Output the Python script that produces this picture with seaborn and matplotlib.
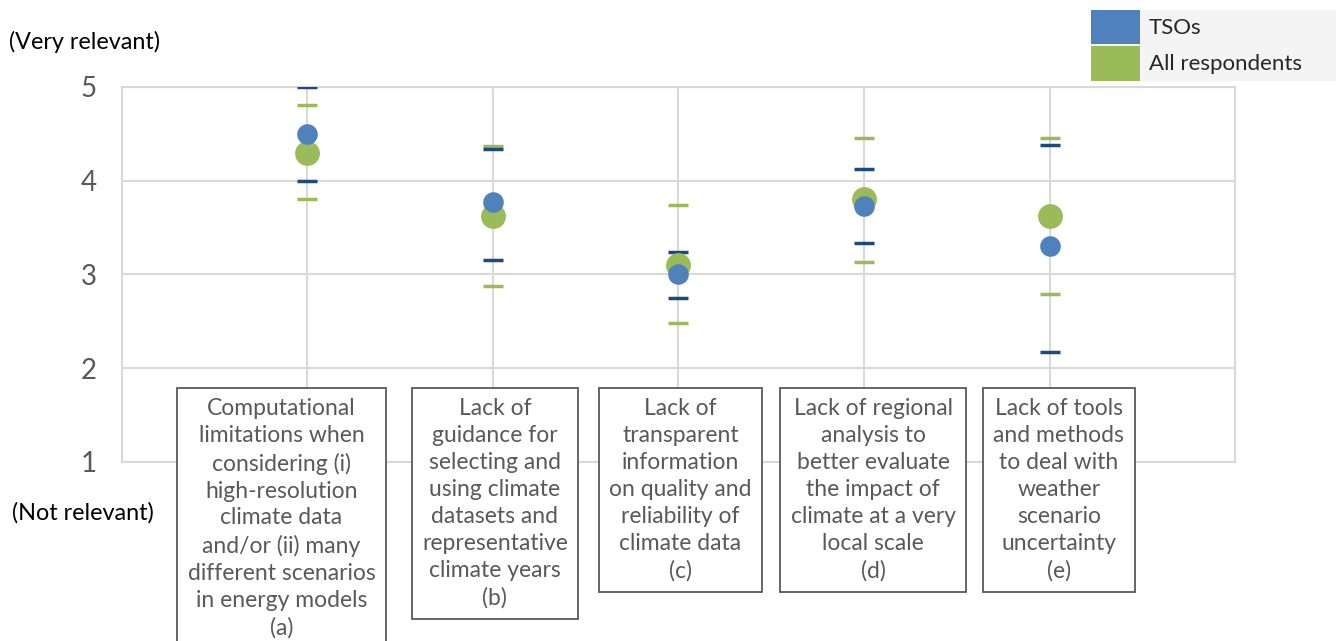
import numpy as np
import pandas as pd
import seaborn as sns
import matplotlib.pyplot as plt
from matplotlib.patches import Patch

# data
labels = [
    "Computational\nlimitations when\nconsidering (i)\nhigh-resolution\nclimate data\nand/or (ii) many\ndifferent scenarios\nin energy models\n(a)",
    "Lack of\nguidance for\nselecting and\nusing climate\ndatasets and\nrepresentative\nclimate years\n(b)",
    "Lack of\ntransparent\ninformation\non quality and\nreliability of\nclimate data\n(c)",
    "Lack of regional\nanalysis to\nbetter evaluate\nthe impact of\nclimate at a very\nlocal scale\n(d)",
    "Lack of tools\nand methods\nto deal with\nweather\nscenario\nuncertainty\n(e)",
]
tso_mean = [4.50, 3.77, 3.00, 3.73, 3.30]
tso_low = [4.00, 3.15, 2.75, 3.34, 2.17]
tso_high = [5.00, 4.34, 3.24, 4.12, 4.38]
all_mean = [4.30, 3.62, 3.10, 3.80, 3.62]
all_low = [3.81, 2.88, 2.48, 3.13, 2.79]
all_high = [4.81, 4.37, 3.74, 4.46, 4.46]

# the label boxes are not quite centred under their category in the original
label_shift = [-0.14, 0.01, 0.01, 0.05, 0.05]

blue = "#4F81BD"
dark_blue = "#1F497D"
green = "#9BBB59"
grid_c = "#D9D9D9"
text_c = "#595959"

sns.set_style("white")
plt.rcParams["font.family"] = ["Lato", "DejaVu Sans"]

df = pd.DataFrame({"pos": np.arange(len(labels)), "tso": tso_mean, "all": all_mean})

fig = plt.figure(figsize=(13.43, 6.41), dpi=100)
ax = fig.add_axes([0.0908, 0.2793, 0.8288, 0.585])

# caps only (no vertical bar), like the original
ax.errorbar(df["pos"], all_mean,
            yerr=[np.subtract(all_mean, all_low), np.subtract(all_high, all_mean)],
            fmt="none", ecolor=green, elinewidth=0, capsize=7.5, capthick=2.5, zorder=3)
ax.errorbar(df["pos"], tso_mean,
            yerr=[np.subtract(tso_mean, tso_low), np.subtract(tso_high, tso_mean)],
            fmt="none", ecolor=dark_blue, elinewidth=0, capsize=7.5, capthick=2.5, zorder=3)

sns.scatterplot(data=df, x="pos", y="all", color=green, s=320, linewidth=0, ax=ax, zorder=4)
sns.scatterplot(data=df, x="pos", y="tso", color=blue, s=220, linewidth=0, ax=ax, zorder=5)

ax.set_xlim(-1, 5)
ax.set_ylim(1, 5)
ax.set_xticks(np.arange(len(labels)))
ax.set_xticklabels([])
ax.set_yticks([1, 2, 3, 4, 5])
ax.tick_params(axis="y", length=0, pad=18, labelsize=20, labelcolor=text_c)
ax.tick_params(axis="x", length=0)
ax.set_xlabel("")
ax.set_ylabel("")
ax.grid(True, color=grid_c, linewidth=1.5, zorder=0)
ax.set_axisbelow(True)
for s in ax.spines.values():
    s.set_color(grid_c)
    s.set_linewidth(1.5)

# category labels in boxes
for i, lab in enumerate(labels):
    ax.text(i + label_shift[i], 1.68, lab, ha="center", va="top", fontsize=16.5,
            color=text_c, linespacing=1.35, clip_on=False, zorder=6,
            bbox=dict(boxstyle="square,pad=0.45", facecolor="white",
                      edgecolor="#595959", linewidth=1.3))

fig.text(0.007, 0.934, "(Very relevant)", fontsize=16.8, color="black", va="center")
fig.text(0.009, 0.200, "(Not relevant)", fontsize=16.8, color="black", va="center")

handles = [Patch(facecolor=blue, edgecolor="none", label="TSOs"),
           Patch(facecolor=green, edgecolor="none", label="All respondents      ")]
leg = fig.legend(handles=handles, loc="upper right", bbox_to_anchor=(0.995, 0.985),
                 fontsize=16, handlelength=2.2, handleheight=2.0, handletextpad=0.4,
                 labelspacing=0.1, borderpad=0.0, borderaxespad=0, frameon=True,
                 fancybox=False)
leg.get_frame().set_facecolor("#F2F2F2")
leg.get_frame().set_edgecolor("none")

fig.savefig("out.png", dpi=100)
